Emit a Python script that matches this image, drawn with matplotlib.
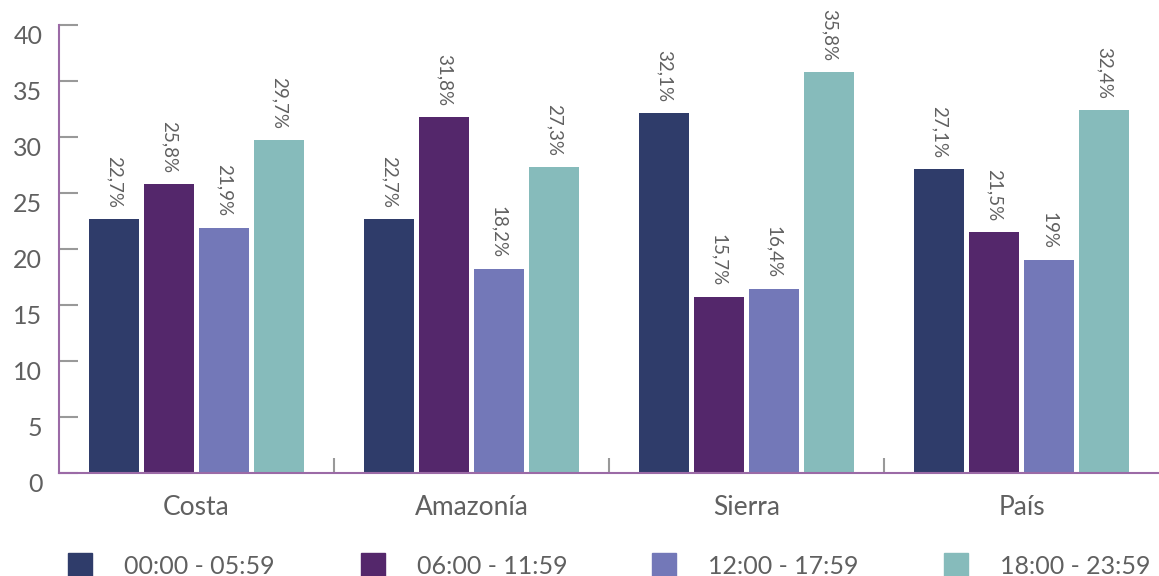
import matplotlib
matplotlib.use("Agg")
import matplotlib.pyplot as plt
import matplotlib.transforms as mtransforms
from matplotlib.patches import Rectangle
import numpy as np

categories = ["Costa", "Amazonía", "Sierra", "País"]
series_names = ["00:00 - 05:59", "06:00 - 11:59", "12:00 - 17:59", "18:00 - 23:59"]
s1 = [22.7, 22.7, 32.1, 27.1]
s2 = [25.8, 31.8, 15.7, 21.5]
s3 = [21.9, 18.2, 16.4, 19.0]
s4 = [29.7, 27.3, 35.8, 32.4]
labels1 = ["22,7%", "22,7%", "32,1%", "27,1%"]
labels2 = ["25,8%", "31,8%", "15,7%", "21,5%"]
labels3 = ["21,9%", "18,2%", "16,4%", "19%"]
labels4 = ["29,7%", "27,3%", "35,8%", "32,4%"]
yticks = [0, 5, 10, 15, 20, 25, 30, 35, 40]

colors = ["#2f3c6a", "#54276b", "#7378b8", "#86bbbb"]
text_color = "#606060"
FONT = ["Lato", "DejaVu Sans"]
plt.rcParams['font.family'] = FONT

W, H = 1159, 576
fig = plt.figure(figsize=(W/100, H/100), dpi=100)
ax = fig.add_axes([59/W, (H-473)/H, (1159-59)/W, (473-25)/H])

x = np.arange(len(categories))
pitch = 0.2
width = 0.182
all_series = [s1, s2, s3, s4]
all_labels = [labels1, labels2, labels3, labels4]
for i, (vals, labs) in enumerate(zip(all_series, all_labels)):
    pos = x + (i - 1.5) * pitch
    ax.bar(pos, vals, width=width, color=colors[i], zorder=2)
    for xp, v, lab in zip(pos, vals, labs):
        ax.annotate(lab, (xp, v), xytext=(0, 8), textcoords="offset points",
                    rotation=270, ha="center", va="bottom",
                    fontsize=13.5, color=text_color)

ax.set_xlim(-0.5, 3.5)
ax.set_ylim(0, 40)
ax.set_yticks(yticks)
ax.set_yticklabels([str(t) for t in yticks])
ax.set_xticks(x)
ax.set_xticklabels(categories)
ax.set_xticks([0.5, 1.5, 2.5], minor=True)

for s in ["top", "right"]:
    ax.spines[s].set_visible(False)
for s in ["left", "bottom"]:
    ax.spines[s].set_color("#9b6aa6")
    ax.spines[s].set_linewidth(1.5)

ax.tick_params(axis="y", direction="in", length=14, width=1.5, color="#999999",
               labelsize=18, labelcolor=text_color, pad=12)
ax.tick_params(axis="x", which="major", length=0, labelsize=19,
               labelcolor=text_color, pad=16)
ax.tick_params(axis="x", which="minor", direction="in", length=11, width=1.5,
               color="#999999")
offset = mtransforms.ScaledTranslation(0, -10/100, fig.dpi_scale_trans)
for lab in ax.get_yticklabels():
    lab.set_transform(lab.get_transform() + offset)

# legend
leg_x = [68, 361, 652, 944]
for lx, name, c in zip(leg_x, series_names, colors):
    fig.patches.append(Rectangle((lx/W, (H-577)/H), 24/W, 24/H,
                                 transform=fig.transFigure, color=c))
    fig.text((lx+56)/W, (H-566)/H, name, ha="left", va="center",
             fontsize=18, color=text_color)

fig.savefig("out.png", dpi=100)
